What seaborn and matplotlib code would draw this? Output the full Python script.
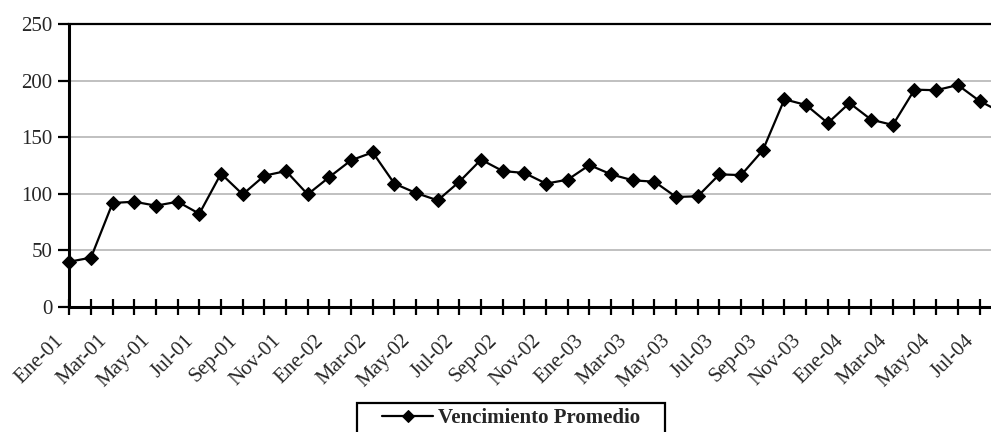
import matplotlib
matplotlib.use("Agg")
import matplotlib.pyplot as plt
import matplotlib.transforms as mtransforms
from matplotlib.patches import Rectangle
import seaborn as sns
import pandas as pd
import numpy as np

months = ["Ene", "Feb", "Mar", "Abr", "May", "Jun", "Jul", "Ago", "Sep", "Oct", "Nov", "Dic"]
years = ["01", "02", "03", "04"]
labels = [f"{m}-{y}" for y in years for m in months][:44]  # Ene-01 .. Ago-04

values = [40.0, 43.6, 91.9, 93.0, 89.5, 93.0, 82.4, 117.8, 99.5, 116.0, 120.1, 99.5,
          114.8, 129.6, 136.6, 109.0, 100.7, 94.2, 110.7, 130.2, 120.1, 118.4, 109.0, 112.5,
          125.4, 117.2, 111.9, 110.7, 97.2, 97.8, 117.2, 116.5, 138.4, 183.5, 178.4, 162.5,
          180.2, 165.5, 160.8, 192.0, 191.5, 196.1, 182.0, 172.0]
series_name = "Vencimiento Promedio"
y_ticks = [0, 50, 100, 150, 200, 250]

df = pd.DataFrame({"idx": np.arange(len(values)), "label": labels, "value": values})

sns.set_theme(style="white")
plt.rcParams['font.family'] = ['Liberation Serif', 'DejaVu Serif']

fig = plt.figure(figsize=(9.91, 4.32), dpi=100)
ax = fig.add_axes([69.3 / 991, 1 - 307 / 432, 1 - 69.3 / 991, (307 - 24) / 432])

for yv in y_ticks[1:-1]:
    ax.axhline(yv, color="#c0c0c0", lw=1.4, zorder=0)

sns.lineplot(data=df, x="idx", y="value", ax=ax, color="black", lw=1.6,
             marker="D", markersize=7.5, markeredgecolor="black", markerfacecolor="black",
             label=series_name, sort=False, clip_on=False, zorder=3)

ax.set_xlim(0, 42.53)
ax.set_ylim(0, 250)
ax.set_yticks(y_ticks)
ax.set_yticklabels([str(v) for v in y_ticks], fontsize=15)
ax.set_xticks(df["idx"][:43])
ax.set_xticklabels([l if i % 2 == 0 else "" for i, l in enumerate(labels[:43])],
                   rotation=45, ha="right", rotation_mode="anchor", fontsize=15)
ax.tick_params(axis="x", bottom=True, direction="inout", length=12, width=1.6,
               color="black", pad=7)
ax.tick_params(axis="y", left=True, direction="out", length=8, width=1.6,
               color="black", pad=4)
ax.set_xlabel("")
ax.set_ylabel("")

offset = mtransforms.ScaledTranslation(-15 / 100, -6 / 100, fig.dpi_scale_trans)
for lbl in ax.get_xticklabels():
    lbl.set_transform(lbl.get_transform() + offset)

for side in ["left", "bottom"]:
    ax.spines[side].set_linewidth(2.2)
    ax.spines[side].set_color("black")
ax.spines["top"].set_linewidth(1.6)
ax.spines["top"].set_color("black")
ax.spines["right"].set_visible(False)

handles, lbls = ax.get_legend_handles_labels()
ax.get_legend().remove()
leg = fig.legend(handles, lbls, loc="center left",
                 bbox_to_anchor=(382 / 991, 1 - 418 / 432), frameon=False,
                 prop={"weight": "bold", "size": 15, "family": "Liberation Serif"},
                 borderpad=0, handlelength=2.45, handletextpad=0.25, borderaxespad=0)
for h in leg.legend_handles:
    h.set_markersize(6)
fig.patches.append(Rectangle((357 / 991, -0.05), (665 - 357) / 991, (1 - 403 / 432) + 0.05,
                             transform=fig.transFigure, fill=False, ec="black", lw=1.6))

fig.savefig("out.png", dpi=100)
